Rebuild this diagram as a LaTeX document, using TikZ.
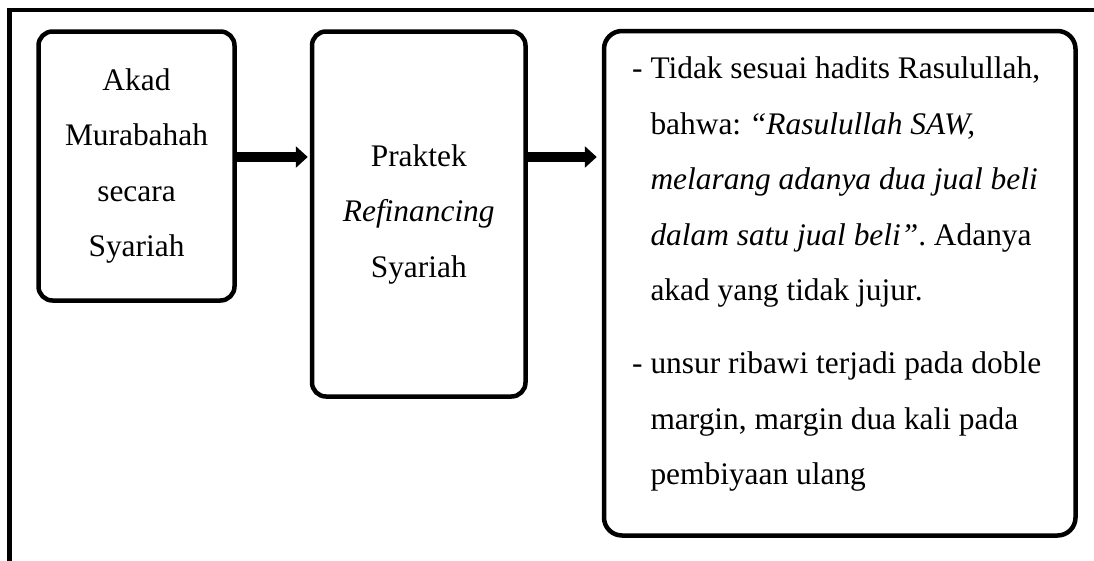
\documentclass[tikz,border=0pt]{standalone}
\usepackage{fontspec}
\setmainfont{Liberation Serif}
\usetikzlibrary{arrows.meta}
\frenchspacing
\begin{document}
\begin{tikzpicture}[x=1pt,y=-1pt,
  box/.style={draw, line width=4.5pt, rounded corners=14pt, align=center, inner sep=0pt,
    font=\fontsize{31.4}{55.5}\selectfont},
  txt/.style={align=left, inner sep=0pt, font=\fontsize{31.4}{55.5}\selectfont},
  bigarrow/.style={line width=10pt, -{Triangle[length=12pt,width=21pt]}}]
\clip (0,0) rectangle (1094,560);
\fill[white] (0,0) rectangle (1094,560);
\draw[line width=4.5pt] (9.5,10) rectangle (1200,700);
\node[box, minimum width=196pt, minimum height=269pt] (b1) at (136.5,166)
  {Akad\\Murabahah\\secara\\Syariah};
\node[box, minimum width=213.5pt, minimum height=365pt] (b2) at (418.75,214)
  {Praktek\\\textit{Refinancing}\\Syariah};
\node[box, rounded corners=18pt, minimum width=471.5pt, minimum height=504.5pt] (b3) at (839.75,283.25) {};
\node[txt, anchor=north west] (t3) at (632,57)
  {- Tidak sesuai hadits Rasulullah,\\
   \hphantom{- }bahwa: \textit{“Rasulullah SAW,}\\
   \hphantom{- }\textit{melarang adanya dua jual beli}\\
   \hphantom{- }\textit{dalam satu jual beli”}. Adanya\\
   \hphantom{- }akad yang tidak jujur.\\[17.5pt]
   - unsur ribawi terjadi pada doble\\
   \hphantom{- }margin, margin dua kali pada\\
   \hphantom{- }pembiyaan ulang};
\coordinate (ay) at (0,157);
\draw[bigarrow] (b1.east |- ay) -- ([xshift=-2pt]b2.west |- ay);
\draw[bigarrow] (b2.east |- ay) -- ([xshift=-5pt]b3.west |- ay);
\end{tikzpicture}
\end{document}
